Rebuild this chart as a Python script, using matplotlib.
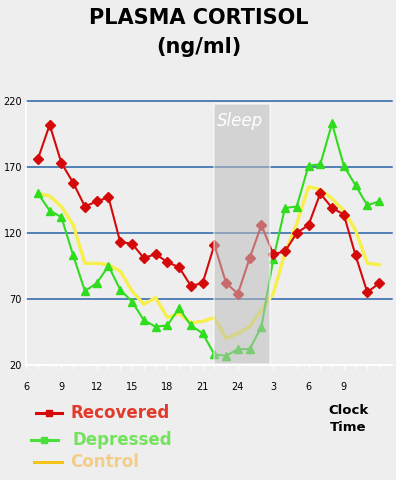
import matplotlib
matplotlib.use("Agg")
import matplotlib.pyplot as plt
from matplotlib.lines import Line2D
from matplotlib.patches import Rectangle

# hours since midnight of day 1 (27 = 3 am next day)
hours = list(range(7, 37))

recovered = [176, 202, 173, 158, 140, 144, 147, 113, 112, 101,
             104, 98, 94, 80, 82, 111, 82, 74, 101, 126,
             104, 106, 120, 126, 150, 139, 134, 103, 75, 82]
depressed = [150, 137, 132, 103, 76, 82, 95, 77, 68, 54,
             49, 50, 63, 50, 44, 28, 27, 32, 32, 49,
             100, 139, 140, 171, 172, 203, 171, 156, 141, 144]
control = [150, 148, 140, 126, 97, 97, 96, 91, 76, 66,
           71, 56, 59, 52, 53, 56, 40, 44, 49, 62,
           74, 105, 127, 155, 153, 146, 137, 122, 97, 96]

xtick_pos = [6, 9, 12, 15, 18, 21, 24, 27, 30, 33]
xtick_labels = ["6", "9", "12", "15", "18", "21", "24", "3", "6", "9"]
ytick_pos = [20, 70, 120, 170, 220]

sleep_start, sleep_end = 21.93, 26.75

bg = "#eeeeee"
fig = plt.figure(figsize=(3.96, 4.80), dpi=100, facecolor=bg)
ax = fig.add_axes([0.066, 0.2396, 0.924, 0.55], facecolor=bg)

ax.set_xlim(6.1, 37.1)
ax.set_ylim(20, 220)

for y in ytick_pos[1:]:
    ax.axhline(y, color="#2a62a8", lw=1.1, zorder=1, clip_on=False)

ax.plot(hours, control, color="#f7ef4a", lw=2.4, zorder=2)
ax.plot(hours, depressed, color="#2fdc1e", lw=1.5, marker="^", ms=6, zorder=3)
ax.plot(hours, recovered, color="#d40a0a", lw=1.5, marker="D", ms=4.8, zorder=4)

ax.add_patch(Rectangle((sleep_start, 21), sleep_end - sleep_start, 197,
                       facecolor="#bdbdbd", alpha=0.55, edgecolor="white",
                       lw=1.2, zorder=5))
ax.text(sleep_start + 0.25, 212, "Sleep", color="white", fontsize=12,
        style="italic", ha="left", va="top", zorder=6)

for s in ["top", "right"]:
    ax.spines[s].set_visible(False)
ax.spines["left"].set_color("white")
ax.spines["bottom"].set_color("white")
ax.spines["left"].set_linewidth(1.2)
ax.spines["bottom"].set_linewidth(1.5)

ax.set_xticks(xtick_pos)
ax.set_xticklabels(xtick_labels)
ax.set_xticks(range(7, 37), minor=True)
ax.set_yticks(ytick_pos)
ax.tick_params(axis="x", which="both", colors="white", length=3, labelcolor="black",
               labelsize=7, pad=9)
ax.tick_params(axis="y", length=0, labelsize=7, labelcolor="black", pad=3)

fig.text(0.502, 0.962, "PLASMA CORTISOL", ha="center", va="center",
         fontsize=15, fontweight="bold")
fig.text(0.502, 0.902, "(ng/ml)", ha="center", va="center",
         fontsize=15, fontweight="bold")

# legend drawn by hand, like the original
# label, line colour, text colour, marker, y, line x0, line x1, text x
legend_items = [
    ("Recovered", "#d40a0a", "#e23a2a", "s", 0.140, 0.091, 0.157, 0.177),
    ("Depressed", "#49e03a", "#74e25c", "s", 0.083, 0.078, 0.146, 0.184),
    ("Control", "#f5c419", "#f3cc88", None, 0.0375, 0.086, 0.157, 0.177),
]
for label, lc, tc, mk, yy, x0, x1, tx in legend_items:
    fig.add_artist(Line2D([x0, x1], [yy, yy], color=lc, lw=2.2,
                          transform=fig.transFigure))
    if mk:
        fig.add_artist(Line2D([(x0 + x1) / 2], [yy], color=lc, marker=mk, ms=5,
                              transform=fig.transFigure))
    fig.text(tx, yy, label, color=tc, fontsize=12, fontweight="bold",
             ha="left", va="center")

fig.text(0.88, 0.128, "Clock\nTime", ha="center", va="center",
         fontsize=9.5, fontweight="bold", linespacing=1.4)

fig.savefig("out.png", dpi=100, facecolor=bg)
